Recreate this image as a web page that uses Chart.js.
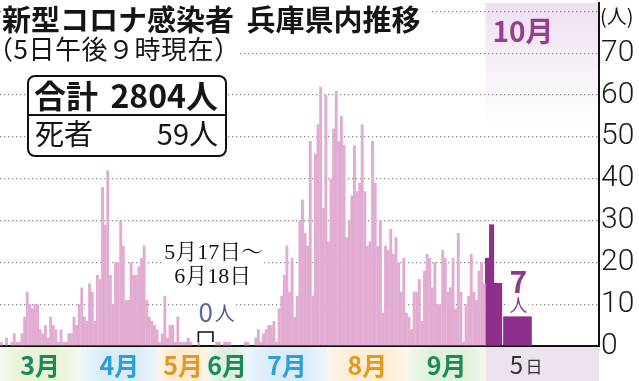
<!DOCTYPE html>
<html lang="ja">
<head>
<meta charset="utf-8">
<script src="https://cdn.jsdelivr.net/npm/chart.js@4.4.1/dist/chart.umd.min.js"></script>
<style>
  html, body { margin: 0; padding: 0; background: #fff; }
  #wrap { position: relative; width: 639px; height: 381px; overflow: hidden;
          font-family: "Noto Sans CJK JP", sans-serif; color: #151515; }
  canvas { position: absolute; left: 0; top: 0; }
  .title { position: absolute; left: 2px; top: 1px; padding-right: 8px; background: #fff;
           font-size: 29px; font-weight: 700; line-height: 34px; white-space: nowrap; word-spacing: 6px; }
  .sub { position: absolute; left: -13px; top: 34px; background: #fff;
         font-size: 26px; line-height: 28px; letter-spacing: 0.5px; white-space: nowrap; }
  .box { position: absolute; left: 27px; top: 75px; width: 196px; height: 78px;
         border: 2px solid #111; border-radius: 8px; background: #fff; }
  .row { display: flex; justify-content: space-between; white-space: nowrap; }
  .r1 { height: 39px; border-bottom: 2px solid #111; font-size: 32px; font-weight: 700;
        line-height: 35px; padding: 0 7px 0 5px; box-sizing: border-box; }
  .r2 { height: 37px; font-size: 29px; line-height: 33px; padding: 0 7px 0 6px; box-sizing: border-box; }
  .unit { position: absolute; left: 600px; top: 4px; font-size: 20px; line-height: 24px; }
</style>
</head>
<body>
<div id="wrap">
  <canvas id="chart" width="639" height="381"></canvas>
  <div class="title">新型コロナ感染者 兵庫県内推移</div>
  <div class="sub">（5日午後９時現在）</div>
  <div class="box">
    <div class="row r1"><span>合計</span><span>2804人</span></div>
    <div class="row r2"><span>死者</span><span>59人</span></div>
  </div>
  <div class="unit">(人)</div>
</div>
<script>
// daily new cases
const marCases = [1,0,2,0,1,3,1,1,3,7,13,10,9,10,10,4,3,5,2,7,5,4,1,4,1,1,3,3,7,5,10];
const aprCases = [14,7,6,15,13,6,17,16,38,29,42,17,10,20,20,30,24,11,11,20,17,17,19,21,24,11,7,6,5,4];
const mayCases = [1,3,12,2,5,5,1,7,1,1,1,2,1,0,0,1];          // May 1-16
const junCases = [1,1,0,1,1,1,0,0,0,0,0,1];                    // Jun 19-30
const julCases = [1,0,0,2,4,1,3,4,5,5,6,1,9,12,17,24,13,21,7,12,30,35,27,24,49,12,46,53,62,33,60];
const augCases = [25,40,52,61,49,55,48,26,30,36,48,37,39,53,37,24,25,49,39,24,30,8,24,23,28,22,26,20,13,21,8];
const sepCases = [7,4,13,13,16,6,18,22,21,14,20,10,10,23,21,13,14,21,9,27,13,1,10,12,22,13,11,18,20,15];
const octCases = [21,29,15,15,7];                              // Oct 1-5

const monthNames = ['3月','4月','5月','6月','7月','8月','9月'];
const yTicks = [0,10,20,30,40,50,60,70,80];
const octName = '10月';
const gapNote = ['5月17日～', '6月18日'];
const gapValue = ['0', '人'];
const todayValue = ['7', '人'];
const todayDay = ['5', '日'];

// styles
const PINK = '#e2abd2';
const PURPLE = '#8d2f8b';
const monthFill = ['#e8f3d6','#d9ecf8','#fcebd0','#ddefde','#d9ecf8','#fcedd5','#e1f0da'];
const monthInk = ['#1b8a5a','#2aa0d6','#e29a22','#1b8a5a','#2aa0d6','#e29a22','#1b8a5a'];

// x layout in day slots: 5/17-6/18 squeezed into a short gap, October days widened
const GAP_SLOTS = 6;
const OCT_STEP = 1.55;
const TODAY_GAP = 0.7;
const TODAY_W = 10.8;
const X_MAX = 230.7;

const mainPts = [];
const spans = [];
let slot = 0;
[marCases, aprCases, mayCases].forEach(m => {
  const s = slot;
  m.forEach(v => mainPts.push({ x: 0.5 + slot++, y: v }));
  spans.push([s, slot]);
});
const gapStart = slot;
slot += GAP_SLOTS;
const gapEnd = slot;
[junCases, julCases, augCases, sepCases].forEach(m => {
  const s = slot;
  m.forEach(v => mainPts.push({ x: 0.5 + slot++, y: v }));
  spans.push([s, slot]);
});
spans[2][1] = gapStart + GAP_SLOTS / 2;
spans[3][0] = gapStart + GAP_SLOTS / 2;
const octStart = slot;
const octPts = octCases.slice(0, -1).map((v, i) => ({ x: octStart + OCT_STEP * (i + 0.5), y: v }));
const todayPts = [{ x: octStart + OCT_STEP * (octCases.length - 1) + TODAY_GAP + TODAY_W / 2, y: octCases[octCases.length - 1] }];

function putText(ctx, text, x, y, font, color, align, knock) {
  ctx.font = font;
  ctx.textAlign = align || 'center';
  ctx.textBaseline = 'middle';
  if (knock) {
    const w = ctx.measureText(text).width;
    const l = align === 'left' ? x : x - w / 2;
    ctx.fillStyle = '#fff';
    ctx.fillRect(l - 1, y - knock / 2, w + 2, knock);
  }
  ctx.fillStyle = color;
  ctx.fillText(text, x, y);
}

const decor = {
  id: 'decor',
  beforeDraw(chart) {
    const { ctx, chartArea: a, scales: { x } } = chart;
    const oL = x.getPixelForValue(octStart);
    ctx.save();
    const g = ctx.createLinearGradient(0, a.top, 0, a.top + 125);
    g.addColorStop(0, 'rgba(238,224,240,1)');
    g.addColorStop(1, 'rgba(238,224,240,0)');
    ctx.fillStyle = g;
    ctx.fillRect(oL, a.top, a.right - oL, 125);

    const top = a.bottom + 1, h = chart.height - top;
    spans.forEach(([s, e], i) => {
      const l = x.getPixelForValue(s), r = x.getPixelForValue(e);
      ctx.fillStyle = monthFill[i];
      ctx.fillRect(l, top, r - l, h);
      const w = ctx.createLinearGradient(l, 0, r, 0);
      w.addColorStop(0, 'rgba(255,255,255,0.5)');
      w.addColorStop(0.3, 'rgba(255,255,255,0)');
      w.addColorStop(0.7, 'rgba(255,255,255,0)');
      w.addColorStop(1, 'rgba(255,255,255,0.5)');
      ctx.fillStyle = w;
      ctx.fillRect(l, top, r - l, h);
    });
    ctx.fillStyle = '#ebe2ee';
    ctx.fillRect(oL, top, a.right - oL, h);
    ctx.restore();
  },
  afterDatasetsDraw(chart) {
    const { ctx, chartArea: a, scales: { x, y } } = chart;
    ctx.save();
    // squeezed zero period
    const bl = x.getPixelForValue(gapStart - 0.6), br = x.getPixelForValue(gapEnd - 1);
    ctx.strokeStyle = '#111';
    ctx.lineWidth = 1.6;
    ctx.beginPath();
    ctx.moveTo(bl, a.bottom - 4);
    ctx.lineTo(bl, a.bottom - 14);
    ctx.lineTo(br, a.bottom - 14);
    ctx.lineTo(br, a.bottom - 4);
    ctx.stroke();
    const bc = (bl + br) / 2;
    const serif = '"Liberation Serif", "Noto Serif CJK JP", "Noto Sans CJK JP", serif';
    putText(ctx, gapNote[0], bc + 8, 253, '22px ' + serif, '#111', 'center', 22);
    putText(ctx, gapNote[1], bc + 7, 277, '22px ' + serif, '#111', 'center', 22);
    putText(ctx, gapValue[0], bc, 312, '26px "Noto Sans CJK JP"', '#5a6b9c', 'center', 22);
    putText(ctx, gapValue[1], bc + 9, 313, '20px "Noto Sans CJK JP"', '#4c5c8a', 'left', 20);

    // latest day
    const tx = x.getPixelForValue(todayPts[0].x) + 1;
    const ty = y.getPixelForValue(todayPts[0].y);
    putText(ctx, todayValue[0], tx, ty - 35, 'bold 30px "Noto Sans CJK JP"', '#8e3a8c', 'center', 0);
    putText(ctx, todayValue[1], tx, ty - 12, '18px "Noto Sans CJK JP"', '#8e3a8c', 'center', 17);
    ctx.restore();
  },
  afterDraw(chart) {
    const { ctx, chartArea: a, scales: { x } } = chart;
    ctx.save();
    const top = a.bottom + 1, mid = (top + chart.height) / 2 + 1;
    spans.forEach(([s, e], i) => {
      const c = (x.getPixelForValue(s) + x.getPixelForValue(e)) / 2;
      putText(ctx, monthNames[i], c, mid, 'bold 25px "Noto Sans CJK JP"', monthInk[i], 'center', 0);
    });
    const tx = x.getPixelForValue(todayPts[0].x);
    putText(ctx, todayDay[0], tx - 1, mid, '24px "Noto Sans CJK JP"', '#333', 'center', 0);
    putText(ctx, todayDay[1], tx + 8, mid + 2, '17px "Noto Sans CJK JP"', '#333', 'left', 0);
    const oL = x.getPixelForValue(octStart);
    putText(ctx, octName, oL + 7, 31, 'bold 28px "Noto Sans CJK JP"', '#9a3d8e', 'left', 0);
    ctx.restore();
  }
};

window.addEventListener('load', () => {
  new Chart(document.getElementById('chart'), {
    type: 'bar',
    data: {
      datasets: [
        { data: mainPts, backgroundColor: PINK, stack: 'all', categoryPercentage: 1, barPercentage: 1.12 },
        { data: octPts, backgroundColor: PURPLE, stack: 'all', barThickness: 4.4 },
        { data: todayPts, backgroundColor: PURPLE, stack: 'all', barThickness: 28 }
      ]
    },
    options: {
      responsive: false,
      animation: false,
      devicePixelRatio: 1,
      layout: { padding: { top: 3, bottom: 35, left: 0, right: 0 } },
      plugins: { legend: { display: false }, tooltip: { enabled: false } },
      scales: {
        x: {
          type: 'linear', min: 0, max: X_MAX, offset: false, z: 1,
          grid: { display: false, drawTicks: false },
          ticks: { display: false },
          border: { color: '#111', width: 2 }
        },
        y: {
          position: 'right', min: 0, max: 82, stacked: false,
          afterBuildTicks: s => { s.ticks = yTicks.map(v => ({ value: v })); },
          ticks: {
            padding: 2, color: '#1a1a1a',
            font: { family: 'Roboto', size: 30, weight: 300 },
            callback: v => (v === 80 ? '' : v)
          },
          grid: { color: '#8c8c8c', lineWidth: 1.3, drawTicks: false },
          border: { color: '#111', width: 2, dash: [1.3, 2.7] },
          afterFit: s => { s.width = 40; s.paddingTop = 0; s.paddingBottom = 0; }
        }
      }
    },
    plugins: [decor]
  });
});
</script>
</body>
</html>
